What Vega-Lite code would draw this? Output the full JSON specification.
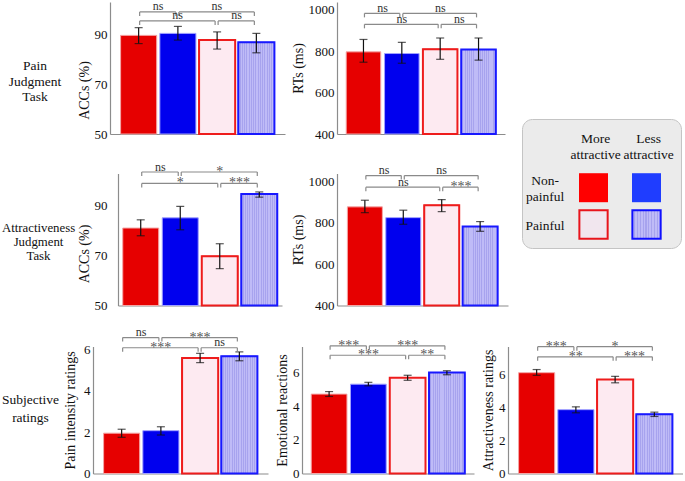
{
 "$schema": "https://vega.github.io/schema/vega-lite/v6.json",
 "padding": 0,
 "background": "white",
 "spacing": 12.5,
 "resolve": {"scale": {"fill": "independent", "stroke": "independent"}},
 "datasets": {
  "bars": [
   {"p":"acc1","c":"NM","m":89.6,"lo":86.3,"hi":92.7},
   {"p":"acc1","c":"NL","m":90.4,"lo":87.7,"hi":93.2},
   {"p":"acc1","c":"PM","m":87.7,"lo":84.1,"hi":91.0},
   {"p":"acc1","c":"PL","m":86.8,"lo":82.6,"hi":90.4},
   {"p":"rt1","c":"NM","m":797,"lo":747,"hi":857},
   {"p":"rt1","c":"NL","m":789,"lo":742,"hi":843},
   {"p":"rt1","c":"PM","m":810,"lo":761,"hi":864},
   {"p":"rt1","c":"PL","m":808,"lo":757,"hi":864},
   {"p":"acc2","c":"NM","m":81.1,"lo":78.0,"hi":84.4},
   {"p":"acc2","c":"NL","m":85.2,"lo":80.4,"hi":89.8},
   {"p":"acc2","c":"PM","m":69.8,"lo":64.8,"hi":74.8},
   {"p":"acc2","c":"PL","m":94.8,"lo":93.5,"hi":95.6},
   {"p":"rt2","c":"NM","m":876,"lo":848,"hi":908},
   {"p":"rt2","c":"NL","m":824,"lo":792,"hi":860},
   {"p":"rt2","c":"PM","m":884,"lo":853,"hi":911},
   {"p":"rt2","c":"PL","m":781,"lo":758,"hi":805},
   {"p":"pain","c":"NM","m":1.95,"lo":1.75,"hi":2.14},
   {"p":"pain","c":"NL","m":2.07,"lo":1.86,"hi":2.26},
   {"p":"pain","c":"PM","m":5.59,"lo":5.36,"hi":5.81},
   {"p":"pain","c":"PL","m":5.67,"lo":5.45,"hi":5.88},
   {"p":"emo","c":"NM","m":4.72,"lo":4.58,"hi":4.87},
   {"p":"emo","c":"NL","m":5.31,"lo":5.21,"hi":5.42},
   {"p":"emo","c":"PM","m":5.69,"lo":5.54,"hi":5.84},
   {"p":"emo","c":"PL","m":6.0,"lo":5.87,"hi":6.11},
   {"p":"att","c":"NM","m":6.08,"lo":5.92,"hi":6.27},
   {"p":"att","c":"NL","m":3.85,"lo":3.66,"hi":4.02},
   {"p":"att","c":"PM","m":5.67,"lo":5.47,"hi":5.86},
   {"p":"att","c":"PL","m":3.57,"lo":3.44,"hi":3.7}
  ],
  "br": [
   {"p":"acc1","c":"NM","c2":"NL","lev":99,"lab":"ns"},
   {"p":"acc1","c":"NL","c2":"PL","lev":99,"lab":"ns"},
   {"p":"acc1","c":"NM","c2":"PM","lev":95.4,"lab":"ns"},
   {"p":"acc1","c":"PM","c2":"PL","lev":95.4,"lab":"ns"},
   {"p":"rt1","c":"NM","c2":"NL","lev":983,"lab":"ns"},
   {"p":"rt1","c":"NL","c2":"PL","lev":983,"lab":"ns"},
   {"p":"rt1","c":"NM","c2":"PM","lev":930,"lab":"ns"},
   {"p":"rt1","c":"PM","c2":"PL","lev":930,"lab":"ns"},
   {"p":"acc2","c":"NM","c2":"NL","lev":103.6,"lab":"ns"},
   {"p":"acc2","c":"NL","c2":"PL","lev":103.6,"lab":"*"},
   {"p":"acc2","c":"NM","c2":"PM","lev":99,"lab":"*"},
   {"p":"acc2","c":"PM","c2":"PL","lev":99,"lab":"***"},
   {"p":"rt2","c":"NM","c2":"NL","lev":1027,"lab":"ns"},
   {"p":"rt2","c":"NL","c2":"PL","lev":1027,"lab":"ns"},
   {"p":"rt2","c":"NM","c2":"PM","lev":971,"lab":"ns"},
   {"p":"rt2","c":"PM","c2":"PL","lev":971,"lab":"***"},
   {"p":"pain","c":"NM","c2":"NL","lev":6.57,"lab":"ns"},
   {"p":"pain","c":"NL","c2":"PL","lev":6.57,"lab":"***"},
   {"p":"pain","c":"NM","c2":"PM","lev":6.08,"lab":"***"},
   {"p":"pain","c":"PM","c2":"PL","lev":6.08,"lab":"ns"},
   {"p":"emo","c":"NM","c2":"NL","lev":7.59,"lab":"***"},
   {"p":"emo","c":"NL","c2":"PL","lev":7.59,"lab":"***"},
   {"p":"emo","c":"NM","c2":"PM","lev":7.03,"lab":"***"},
   {"p":"emo","c":"PM","c2":"PL","lev":7.03,"lab":"**"},
   {"p":"att","c":"NM","c2":"NL","lev":7.65,"lab":"***"},
   {"p":"att","c":"NL","c2":"PL","lev":7.65,"lab":"*"},
   {"p":"att","c":"NM","c2":"PM","lev":7.04,"lab":"**"},
   {"p":"att","c":"PM","c2":"PL","lev":7.04,"lab":"***"}
  ]
 },
 "config": {
  "view": {"stroke": null},
  "font": "Liberation Serif",
  "text": {"font": "Liberation Serif"},
  "axis": {"labelFont":"Liberation Serif","titleFont":"Liberation Serif","labelFontSize":13,"titleFontSize":14,"titleFontWeight":"normal","labelColor":"#111","titleColor":"#111","domainColor":"#8c8c8c","domainWidth":1.2,"ticks":false,"grid":false,"labelPadding":3,"titlePadding":3},
  "rect": {"color":{"gradient":"linear","x1":0,"y1":0,"x2":1,"y2":0,"stops":[
    {"offset":0,"color":"#bfbbf7"},{"offset":0.0375,"color":"#bfbbf7"},{"offset":0.0375,"color":"#a7a3ee"},{"offset":0.0625,"color":"#a7a3ee"},
    {"offset":0.0625,"color":"#bfbbf7"},{"offset":0.1,"color":"#bfbbf7"},{"offset":0.1,"color":"#a7a3ee"},{"offset":0.125,"color":"#a7a3ee"},
    {"offset":0.125,"color":"#bfbbf7"},{"offset":0.1625,"color":"#bfbbf7"},{"offset":0.1625,"color":"#a7a3ee"},{"offset":0.1875,"color":"#a7a3ee"},
    {"offset":0.1875,"color":"#bfbbf7"},{"offset":0.225,"color":"#bfbbf7"},{"offset":0.225,"color":"#a7a3ee"},{"offset":0.25,"color":"#a7a3ee"},
    {"offset":0.25,"color":"#bfbbf7"},{"offset":0.2875,"color":"#bfbbf7"},{"offset":0.2875,"color":"#a7a3ee"},{"offset":0.3125,"color":"#a7a3ee"},
    {"offset":0.3125,"color":"#bfbbf7"},{"offset":0.35,"color":"#bfbbf7"},{"offset":0.35,"color":"#a7a3ee"},{"offset":0.375,"color":"#a7a3ee"},
    {"offset":0.375,"color":"#bfbbf7"},{"offset":0.4125,"color":"#bfbbf7"},{"offset":0.4125,"color":"#a7a3ee"},{"offset":0.4375,"color":"#a7a3ee"},
    {"offset":0.4375,"color":"#bfbbf7"},{"offset":0.475,"color":"#bfbbf7"},{"offset":0.475,"color":"#a7a3ee"},{"offset":0.5,"color":"#a7a3ee"},
    {"offset":0.5,"color":"#bfbbf7"},{"offset":0.5375,"color":"#bfbbf7"},{"offset":0.5375,"color":"#a7a3ee"},{"offset":0.5625,"color":"#a7a3ee"},
    {"offset":0.5625,"color":"#bfbbf7"},{"offset":0.6,"color":"#bfbbf7"},{"offset":0.6,"color":"#a7a3ee"},{"offset":0.625,"color":"#a7a3ee"},
    {"offset":0.625,"color":"#bfbbf7"},{"offset":0.6625,"color":"#bfbbf7"},{"offset":0.6625,"color":"#a7a3ee"},{"offset":0.6875,"color":"#a7a3ee"},
    {"offset":0.6875,"color":"#bfbbf7"},{"offset":0.725,"color":"#bfbbf7"},{"offset":0.725,"color":"#a7a3ee"},{"offset":0.75,"color":"#a7a3ee"},
    {"offset":0.75,"color":"#bfbbf7"},{"offset":0.7875,"color":"#bfbbf7"},{"offset":0.7875,"color":"#a7a3ee"},{"offset":0.8125,"color":"#a7a3ee"},
    {"offset":0.8125,"color":"#bfbbf7"},{"offset":0.85,"color":"#bfbbf7"},{"offset":0.85,"color":"#a7a3ee"},{"offset":0.875,"color":"#a7a3ee"},
    {"offset":0.875,"color":"#bfbbf7"},{"offset":0.9125,"color":"#bfbbf7"},{"offset":0.9125,"color":"#a7a3ee"},{"offset":0.9375,"color":"#a7a3ee"},
    {"offset":0.9375,"color":"#bfbbf7"},{"offset":0.975,"color":"#bfbbf7"},{"offset":0.975,"color":"#a7a3ee"},{"offset":1,"color":"#a7a3ee"}
   ]}}
 },
 "vconcat": [
  {
   "spacing": 13,
   "resolve": {"scale": {"fill": "independent", "stroke": "independent"}},
   "hconcat": [
    {
     "spacing": 19.5,
     "vconcat": [
      {
       "bounds": "flush", "spacing": 52,
       "hconcat": [
        {"width":58,"height":132,"data":{"values":[{"t":"Pain\nJudgment\nTask"}]},"mark":{"type":"text","font":"Liberation Serif","lineBreak":"\n","fontSize":13.5,"lineHeight":15.5,"dx":6,"dy":-2,"color":"#111"},"encoding":{"text":{"field":"t","type":"nominal"}}},
        {
         "width":175,"height":132,
         "encoding":{"x":{"field":"c","type":"nominal","scale":{"domain":["NM","NL","PM","PL"],"paddingInner":0.08,"paddingOuter":0.27},"axis":{"labels":false,"title":null}}},
         "layer":[
          {"data":{"name":"bars"},"transform":[{"filter":"datum.p==='acc1'"}],
           "layer":[
            {"mark":{"type":"bar","strokeWidth":1},"encoding":{"y":{"field":"m","type":"quantitative","scale":{"domain":[50,103],"nice":false,"zero":false},"axis":{"title":"ACCs (%)","values":[50,70,90],"titleY":88}},"y2":{"datum":50},
              "fill":{"field":"c","type":"nominal","scale":{"domain":["NM","NL","PM","PL"],"range":["#e60000","#0000ee","#fdeaf1","#bcb8f6"]},"legend":null},
              "stroke":{"field":"c","type":"nominal","scale":{"domain":["NM","NL","PM","PL"],"range":["#f4a6a6","#a0a0ff","#ee1c1c","#1818ff"]},"legend":null}}},
            {"transform":[{"filter":"datum.c==='PM'"}],"mark":{"type":"bar","fill":"#fdeaf1","stroke":"#ee1c1c","strokeWidth":2},"encoding":{"y":{"field":"m","type":"quantitative"},"y2":{"datum":50}}},
            {"transform":[{"filter":"datum.c==='PL'"}],"mark":{"type":"rect","stroke":"#1818ff","strokeWidth":2},"encoding":{"y":{"field":"m","type":"quantitative"},"y2":{"datum":50}}},
            {"mark":{"type":"rule","color":"#111","strokeWidth":1.2},"encoding":{"y":{"field":"lo","type":"quantitative"},"y2":{"field":"hi"}}},
            {"mark":{"type":"tick","color":"#111","size":8,"thickness":1.2},"encoding":{"y":{"field":"lo","type":"quantitative"}}},
            {"mark":{"type":"tick","color":"#111","size":8,"thickness":1.2},"encoding":{"y":{"field":"hi","type":"quantitative"}}}
           ]},
          {"data":{"name":"br"},"transform":[{"filter":"datum.p==='acc1'"}],
           "layer":[
            {"mark":{"type":"rule","color":"#8a8a8a","strokeWidth":1.2,"xOffset":1,"x2Offset":-2},"encoding":{"x2":{"field":"c2"},"y":{"field":"lev","type":"quantitative"}}},
            {"mark":{"type":"point","shape":"M0,0V1","size":64,"filled":false,"stroke":"#8a8a8a","strokeWidth":1.2,"opacity":1,"xOffset":1},"encoding":{"y":{"field":"lev","type":"quantitative"}}},
            {"mark":{"type":"point","shape":"M0,0V1","size":64,"filled":false,"stroke":"#8a8a8a","strokeWidth":1.2,"opacity":1,"xOffset":-2},"encoding":{"x":{"field":"c2","type":"nominal"},"y":{"field":"lev","type":"quantitative"}}},
            {"transform":[{"filter":"datum.lab==='ns' && ((datum.c==='NM'&&datum.c2==='NL')||(datum.c==='PM'&&datum.c2==='PL'))"}],"mark":{"type":"text","font":"Liberation Serif","baseline":"middle","dy":-5.5,"xOffset":19.5,"fontSize":12,"color":"#333"},"encoding":{"y":{"field":"lev","type":"quantitative"},"text":{"field":"lab"}}},
            {"transform":[{"filter":"datum.lab==='ns' && !((datum.c==='NM'&&datum.c2==='NL')||(datum.c==='PM'&&datum.c2==='PL'))"}],"mark":{"type":"text","font":"Liberation Serif","baseline":"middle","dy":-5.5,"xOffset":39,"fontSize":12,"color":"#333"},"encoding":{"y":{"field":"lev","type":"quantitative"},"text":{"field":"lab"}}},
            {"transform":[{"filter":"datum.lab!=='ns' && ((datum.c==='NM'&&datum.c2==='NL')||(datum.c==='PM'&&datum.c2==='PL'))"}],"mark":{"type":"text","font":"Liberation Serif","baseline":"middle","dy":0,"xOffset":19.5,"fontSize":14,"color":"#555"},"encoding":{"y":{"field":"lev","type":"quantitative"},"text":{"field":"lab"}}},
            {"transform":[{"filter":"datum.lab!=='ns' && !((datum.c==='NM'&&datum.c2==='NL')||(datum.c==='PM'&&datum.c2==='PL'))"}],"mark":{"type":"text","font":"Liberation Serif","baseline":"middle","dy":0,"xOffset":39,"fontSize":14,"color":"#555"},"encoding":{"y":{"field":"lev","type":"quantitative"},"text":{"field":"lab"}}}
           ]}
         ]
        },
        {
         "width":168,"height":132,
         "encoding":{"x":{"field":"c","type":"nominal","scale":{"domain":["NM","NL","PM","PL"],"paddingInner":0.1,"paddingOuter":0.24},"axis":{"labels":false,"title":null}}},
         "layer":[
          {"data":{"name":"bars"},"transform":[{"filter":"datum.p==='rt1'"}],
           "layer":[
            {"mark":{"type":"bar","strokeWidth":1},"encoding":{"y":{"field":"m","type":"quantitative","scale":{"domain":[400,1038],"nice":false,"zero":false},"axis":{"title":"RTs (ms)","values":[400,600,800,1000],"format":"d"}},"y2":{"datum":400},
              "fill":{"field":"c","type":"nominal","scale":{"domain":["NM","NL","PM","PL"],"range":["#e60000","#0000ee","#fdeaf1","#bcb8f6"]},"legend":null},
              "stroke":{"field":"c","type":"nominal","scale":{"domain":["NM","NL","PM","PL"],"range":["#f4a6a6","#a0a0ff","#ee1c1c","#1818ff"]},"legend":null}}},
            {"transform":[{"filter":"datum.c==='PM'"}],"mark":{"type":"bar","fill":"#fdeaf1","stroke":"#ee1c1c","strokeWidth":2},"encoding":{"y":{"field":"m","type":"quantitative"},"y2":{"datum":400}}},
            {"transform":[{"filter":"datum.c==='PL'"}],"mark":{"type":"rect","stroke":"#1818ff","strokeWidth":2},"encoding":{"y":{"field":"m","type":"quantitative"},"y2":{"datum":400}}},
            {"mark":{"type":"rule","color":"#111","strokeWidth":1.2},"encoding":{"y":{"field":"lo","type":"quantitative"},"y2":{"field":"hi"}}},
            {"mark":{"type":"tick","color":"#111","size":8,"thickness":1.2},"encoding":{"y":{"field":"lo","type":"quantitative"}}},
            {"mark":{"type":"tick","color":"#111","size":8,"thickness":1.2},"encoding":{"y":{"field":"hi","type":"quantitative"}}}
           ]},
          {"data":{"name":"br"},"transform":[{"filter":"datum.p==='rt1'"}],
           "layer":[
            {"mark":{"type":"rule","color":"#8a8a8a","strokeWidth":1.2,"xOffset":1,"x2Offset":-2},"encoding":{"x2":{"field":"c2"},"y":{"field":"lev","type":"quantitative"}}},
            {"mark":{"type":"point","shape":"M0,0V1","size":64,"filled":false,"stroke":"#8a8a8a","strokeWidth":1.2,"opacity":1,"xOffset":1},"encoding":{"y":{"field":"lev","type":"quantitative"}}},
            {"mark":{"type":"point","shape":"M0,0V1","size":64,"filled":false,"stroke":"#8a8a8a","strokeWidth":1.2,"opacity":1,"xOffset":-2},"encoding":{"x":{"field":"c2","type":"nominal"},"y":{"field":"lev","type":"quantitative"}}},
            {"transform":[{"filter":"datum.lab==='ns' && ((datum.c==='NM'&&datum.c2==='NL')||(datum.c==='PM'&&datum.c2==='PL'))"}],"mark":{"type":"text","font":"Liberation Serif","baseline":"middle","dy":-5.5,"xOffset":19.2,"fontSize":12,"color":"#333"},"encoding":{"y":{"field":"lev","type":"quantitative"},"text":{"field":"lab"}}},
            {"transform":[{"filter":"datum.lab==='ns' && !((datum.c==='NM'&&datum.c2==='NL')||(datum.c==='PM'&&datum.c2==='PL'))"}],"mark":{"type":"text","font":"Liberation Serif","baseline":"middle","dy":-5.5,"xOffset":38.4,"fontSize":12,"color":"#333"},"encoding":{"y":{"field":"lev","type":"quantitative"},"text":{"field":"lab"}}},
            {"transform":[{"filter":"datum.lab!=='ns' && ((datum.c==='NM'&&datum.c2==='NL')||(datum.c==='PM'&&datum.c2==='PL'))"}],"mark":{"type":"text","font":"Liberation Serif","baseline":"middle","dy":0,"xOffset":19.2,"fontSize":14,"color":"#555"},"encoding":{"y":{"field":"lev","type":"quantitative"},"text":{"field":"lab"}}},
            {"transform":[{"filter":"datum.lab!=='ns' && !((datum.c==='NM'&&datum.c2==='NL')||(datum.c==='PM'&&datum.c2==='PL'))"}],"mark":{"type":"text","font":"Liberation Serif","baseline":"middle","dy":0,"xOffset":38.4,"fontSize":14,"color":"#555"},"encoding":{"y":{"field":"lev","type":"quantitative"},"text":{"field":"lab"}}}
           ]}
         ]
        }
       ]
      },
      {
       "bounds": "flush", "spacing": 55,
       "hconcat": [
        {"width":63,"height":132,"data":{"values":[{"t":"Attractiveness\nJudgment\nTask"}]},"mark":{"type":"text","font":"Liberation Serif","lineBreak":"\n","fontSize":12.8,"lineHeight":14,"dx":7,"dy":-12,"color":"#111"},"encoding":{"text":{"field":"t","type":"nominal"}}},
        {
         "width":164,"height":132,
         "encoding":{"x":{"field":"c","type":"nominal","scale":{"domain":["NM","NL","PM","PL"],"paddingInner":0.09,"paddingOuter":0.12},"axis":{"labels":false,"title":null}}},
         "layer":[
          {"data":{"name":"bars"},"transform":[{"filter":"datum.p==='acc2'"}],
           "layer":[
            {"mark":{"type":"bar","strokeWidth":1},"encoding":{"y":{"field":"m","type":"quantitative","scale":{"domain":[50,103],"nice":false,"zero":false},"axis":{"title":"ACCs (%)","values":[50,70,90],"labelPadding":11,"titleY":80}},"y2":{"datum":50},
              "fill":{"field":"c","type":"nominal","scale":{"domain":["NM","NL","PM","PL"],"range":["#e60000","#0000ee","#fdeaf1","#bcb8f6"]},"legend":null},
              "stroke":{"field":"c","type":"nominal","scale":{"domain":["NM","NL","PM","PL"],"range":["#f4a6a6","#a0a0ff","#ee1c1c","#1818ff"]},"legend":null}}},
            {"transform":[{"filter":"datum.c==='PM'"}],"mark":{"type":"bar","fill":"#fdeaf1","stroke":"#ee1c1c","strokeWidth":2},"encoding":{"y":{"field":"m","type":"quantitative"},"y2":{"datum":50}}},
            {"transform":[{"filter":"datum.c==='PL'"}],"mark":{"type":"rect","stroke":"#1818ff","strokeWidth":2},"encoding":{"y":{"field":"m","type":"quantitative"},"y2":{"datum":50}}},
            {"mark":{"type":"rule","color":"#111","strokeWidth":1.2},"encoding":{"y":{"field":"lo","type":"quantitative"},"y2":{"field":"hi"}}},
            {"mark":{"type":"tick","color":"#111","size":8,"thickness":1.2},"encoding":{"y":{"field":"lo","type":"quantitative"}}},
            {"mark":{"type":"tick","color":"#111","size":8,"thickness":1.2},"encoding":{"y":{"field":"hi","type":"quantitative"}}}
           ]},
          {"data":{"name":"br"},"transform":[{"filter":"datum.p==='acc2'"}],
           "layer":[
            {"mark":{"type":"rule","color":"#8a8a8a","strokeWidth":1.2,"xOffset":1,"x2Offset":-2},"encoding":{"x2":{"field":"c2"},"y":{"field":"lev","type":"quantitative"}}},
            {"mark":{"type":"point","shape":"M0,0V1","size":64,"filled":false,"stroke":"#8a8a8a","strokeWidth":1.2,"opacity":1,"xOffset":1},"encoding":{"y":{"field":"lev","type":"quantitative"}}},
            {"mark":{"type":"point","shape":"M0,0V1","size":64,"filled":false,"stroke":"#8a8a8a","strokeWidth":1.2,"opacity":1,"xOffset":-2},"encoding":{"x":{"field":"c2","type":"nominal"},"y":{"field":"lev","type":"quantitative"}}},
            {"transform":[{"filter":"datum.lab==='ns' && ((datum.c==='NM'&&datum.c2==='NL')||(datum.c==='PM'&&datum.c2==='PL'))"}],"mark":{"type":"text","font":"Liberation Serif","baseline":"middle","dy":-5.5,"xOffset":19.7,"fontSize":12,"color":"#333"},"encoding":{"y":{"field":"lev","type":"quantitative"},"text":{"field":"lab"}}},
            {"transform":[{"filter":"datum.lab==='ns' && !((datum.c==='NM'&&datum.c2==='NL')||(datum.c==='PM'&&datum.c2==='PL'))"}],"mark":{"type":"text","font":"Liberation Serif","baseline":"middle","dy":-5.5,"xOffset":39.5,"fontSize":12,"color":"#333"},"encoding":{"y":{"field":"lev","type":"quantitative"},"text":{"field":"lab"}}},
            {"transform":[{"filter":"datum.lab!=='ns' && ((datum.c==='NM'&&datum.c2==='NL')||(datum.c==='PM'&&datum.c2==='PL'))"}],"mark":{"type":"text","font":"Liberation Serif","baseline":"middle","dy":0,"xOffset":19.7,"fontSize":14,"color":"#555"},"encoding":{"y":{"field":"lev","type":"quantitative"},"text":{"field":"lab"}}},
            {"transform":[{"filter":"datum.lab!=='ns' && !((datum.c==='NM'&&datum.c2==='NL')||(datum.c==='PM'&&datum.c2==='PL'))"}],"mark":{"type":"text","font":"Liberation Serif","baseline":"middle","dy":0,"xOffset":39.5,"fontSize":14,"color":"#555"},"encoding":{"y":{"field":"lev","type":"quantitative"},"text":{"field":"lab"}}}
           ]}
         ]
        },
        {
         "width":171,"height":132,
         "encoding":{"x":{"field":"c","type":"nominal","scale":{"domain":["NM","NL","PM","PL"],"paddingInner":0.09,"paddingOuter":0.27},"axis":{"labels":false,"title":null}}},
         "layer":[
          {"data":{"name":"bars"},"transform":[{"filter":"datum.p==='rt2'"}],
           "layer":[
            {"mark":{"type":"bar","strokeWidth":1},"encoding":{"y":{"field":"m","type":"quantitative","scale":{"domain":[400,1037],"nice":false,"zero":false},"axis":{"title":"RTs (ms)","values":[400,600,800,1000],"format":"d"}},"y2":{"datum":400},
              "fill":{"field":"c","type":"nominal","scale":{"domain":["NM","NL","PM","PL"],"range":["#e60000","#0000ee","#fdeaf1","#bcb8f6"]},"legend":null},
              "stroke":{"field":"c","type":"nominal","scale":{"domain":["NM","NL","PM","PL"],"range":["#f4a6a6","#a0a0ff","#ee1c1c","#1818ff"]},"legend":null}}},
            {"transform":[{"filter":"datum.c==='PM'"}],"mark":{"type":"bar","fill":"#fdeaf1","stroke":"#ee1c1c","strokeWidth":2},"encoding":{"y":{"field":"m","type":"quantitative"},"y2":{"datum":400}}},
            {"transform":[{"filter":"datum.c==='PL'"}],"mark":{"type":"rect","stroke":"#1818ff","strokeWidth":2},"encoding":{"y":{"field":"m","type":"quantitative"},"y2":{"datum":400}}},
            {"mark":{"type":"rule","color":"#111","strokeWidth":1.2},"encoding":{"y":{"field":"lo","type":"quantitative"},"y2":{"field":"hi"}}},
            {"mark":{"type":"tick","color":"#111","size":8,"thickness":1.2},"encoding":{"y":{"field":"lo","type":"quantitative"}}},
            {"mark":{"type":"tick","color":"#111","size":8,"thickness":1.2},"encoding":{"y":{"field":"hi","type":"quantitative"}}}
           ]},
          {"data":{"name":"br"},"transform":[{"filter":"datum.p==='rt2'"}],
           "layer":[
            {"mark":{"type":"rule","color":"#8a8a8a","strokeWidth":1.2,"xOffset":1,"x2Offset":-2},"encoding":{"x2":{"field":"c2"},"y":{"field":"lev","type":"quantitative"}}},
            {"mark":{"type":"point","shape":"M0,0V1","size":64,"filled":false,"stroke":"#8a8a8a","strokeWidth":1.2,"opacity":1,"xOffset":1},"encoding":{"y":{"field":"lev","type":"quantitative"}}},
            {"mark":{"type":"point","shape":"M0,0V1","size":64,"filled":false,"stroke":"#8a8a8a","strokeWidth":1.2,"opacity":1,"xOffset":-2},"encoding":{"x":{"field":"c2","type":"nominal"},"y":{"field":"lev","type":"quantitative"}}},
            {"transform":[{"filter":"datum.lab==='ns' && ((datum.c==='NM'&&datum.c2==='NL')||(datum.c==='PM'&&datum.c2==='PL'))"}],"mark":{"type":"text","font":"Liberation Serif","baseline":"middle","dy":-5.5,"xOffset":19.2,"fontSize":12,"color":"#333"},"encoding":{"y":{"field":"lev","type":"quantitative"},"text":{"field":"lab"}}},
            {"transform":[{"filter":"datum.lab==='ns' && !((datum.c==='NM'&&datum.c2==='NL')||(datum.c==='PM'&&datum.c2==='PL'))"}],"mark":{"type":"text","font":"Liberation Serif","baseline":"middle","dy":-5.5,"xOffset":38.4,"fontSize":12,"color":"#333"},"encoding":{"y":{"field":"lev","type":"quantitative"},"text":{"field":"lab"}}},
            {"transform":[{"filter":"datum.lab!=='ns' && ((datum.c==='NM'&&datum.c2==='NL')||(datum.c==='PM'&&datum.c2==='PL'))"}],"mark":{"type":"text","font":"Liberation Serif","baseline":"middle","dy":0,"xOffset":19.2,"fontSize":14,"color":"#555"},"encoding":{"y":{"field":"lev","type":"quantitative"},"text":{"field":"lab"}}},
            {"transform":[{"filter":"datum.lab!=='ns' && !((datum.c==='NM'&&datum.c2==='NL')||(datum.c==='PM'&&datum.c2==='PL'))"}],"mark":{"type":"text","font":"Liberation Serif","baseline":"middle","dy":0,"xOffset":38.4,"fontSize":14,"color":"#555"},"encoding":{"y":{"field":"lev","type":"quantitative"},"text":{"field":"lab"}}}
           ]}
         ]
        }
       ]
      }
     ]
    },
    {
     "spacing": 17,
     "vconcat": [
      {"width":159,"height":99,"data":{"values":[{}]},"mark":{"type":"text"},"encoding":{}},
      {
       "width":159,"height":129,
       "view":{"fill":"#ebebeb","stroke":"#c4c4c4","strokeWidth":1,"cornerRadius":10},
       "layer":[
        {"data":{"values":[{"col":"More attractive","t":"More\nattractive"},{"col":"Less attractive","t":"Less\nattractive"}]},
         "mark":{"type":"text","font":"Liberation Serif","lineBreak":"\n","fontSize":13.5,"lineHeight":16,"color":"#111","dy":-12.2,"dx":-1},
         "encoding":{"x":{"field":"col","type":"nominal","scale":{"type":"point","domain":["lab","More attractive","Less attractive"],"padding":0.5,"align":0.406},"axis":null},
                     "y":{"datum":"head","type":"nominal","scale":{"type":"point","domain":["head","Non-painful","Painful"],"padding":0.753,"align":0.576},"axis":null},
                     "text":{"field":"t"}}},
        {"data":{"values":[{"row":"Non-painful","t":"Non-\npainful"},{"row":"Painful","t":"Painful"}]},
         "layer":[
          {"transform":[{"filter":"datum.row==='Non-painful'"}],"mark":{"type":"text","font":"Liberation Serif","lineBreak":"\n","fontSize":13.5,"lineHeight":16,"color":"#111","dy":-6.4,"dx":1.5},
           "encoding":{"x":{"datum":"lab","type":"nominal"},"y":{"field":"row","type":"nominal"},"text":{"field":"t"}}},
          {"transform":[{"filter":"datum.row==='Painful'"}],"mark":{"type":"text","font":"Liberation Serif","fontSize":13.5,"color":"#111","dy":1.5,"dx":1.5},
           "encoding":{"x":{"datum":"lab","type":"nominal"},"y":{"field":"row","type":"nominal"},"text":{"field":"t"}}}
         ]},
        {"data":{"values":[{"row":"Non-painful","col":"More attractive","k":"nm"},{"row":"Non-painful","col":"Less attractive","k":"nl"},{"row":"Painful","col":"More attractive","k":"pm"},{"row":"Painful","col":"Less attractive","k":"pl"}]},
         "layer":[
          {"transform":[{"filter":"datum.row==='Non-painful'"}],"mark":{"type":"point","shape":"square","size":841,"filled":true,"opacity":1,"xOffset":-3},
           "encoding":{"x":{"field":"col","type":"nominal"},"y":{"field":"row","type":"nominal"},"fill":{"field":"k","type":"nominal","scale":{"domain":["nm","nl"],"range":["#ff0000","#1f3dff"]},"legend":null}}},
          {"transform":[{"filter":"datum.k==='pm'"}],"mark":{"type":"point","shape":"square","size":800,"filled":true,"opacity":1,"xOffset":-3,"fill":"#f1e6ee","stroke":"#e8141c","strokeWidth":2},
           "encoding":{"x":{"field":"col","type":"nominal"},"y":{"field":"row","type":"nominal"}}},
          {"transform":[{"filter":"datum.k==='pl'"}],"mark":{"type":"point","shape":"square","size":800,"filled":true,"opacity":1,"xOffset":-3,"stroke":"#1010ff","strokeWidth":2,
            "fill":{"gradient":"linear","x1":0,"y1":0,"x2":1,"y2":0,"stops":[
             {"offset":0,"color":"#bfbbf7"},{"offset":0.06,"color":"#bfbbf7"},{"offset":0.06,"color":"#a7a3ee"},{"offset":0.1,"color":"#a7a3ee"},
             {"offset":0.1,"color":"#bfbbf7"},{"offset":0.16,"color":"#bfbbf7"},{"offset":0.16,"color":"#a7a3ee"},{"offset":0.2,"color":"#a7a3ee"},
             {"offset":0.2,"color":"#bfbbf7"},{"offset":0.26,"color":"#bfbbf7"},{"offset":0.26,"color":"#a7a3ee"},{"offset":0.3,"color":"#a7a3ee"},
             {"offset":0.3,"color":"#bfbbf7"},{"offset":0.36,"color":"#bfbbf7"},{"offset":0.36,"color":"#a7a3ee"},{"offset":0.4,"color":"#a7a3ee"},
             {"offset":0.4,"color":"#bfbbf7"},{"offset":0.46,"color":"#bfbbf7"},{"offset":0.46,"color":"#a7a3ee"},{"offset":0.5,"color":"#a7a3ee"},
             {"offset":0.5,"color":"#bfbbf7"},{"offset":0.56,"color":"#bfbbf7"},{"offset":0.56,"color":"#a7a3ee"},{"offset":0.6,"color":"#a7a3ee"},
             {"offset":0.6,"color":"#bfbbf7"},{"offset":0.66,"color":"#bfbbf7"},{"offset":0.66,"color":"#a7a3ee"},{"offset":0.7,"color":"#a7a3ee"},
             {"offset":0.7,"color":"#bfbbf7"},{"offset":0.76,"color":"#bfbbf7"},{"offset":0.76,"color":"#a7a3ee"},{"offset":0.8,"color":"#a7a3ee"},
             {"offset":0.8,"color":"#bfbbf7"},{"offset":0.86,"color":"#bfbbf7"},{"offset":0.86,"color":"#a7a3ee"},{"offset":0.9,"color":"#a7a3ee"},
             {"offset":0.9,"color":"#bfbbf7"},{"offset":0.96,"color":"#bfbbf7"},{"offset":0.96,"color":"#a7a3ee"},{"offset":1,"color":"#a7a3ee"}
            ]}},
           "encoding":{"x":{"field":"col","type":"nominal"},"y":{"field":"row","type":"nominal"}}}
         ]}
       ]
      }
     ]
    }
   ]
  },
  {
   "bounds": "flush", "spacing": 34,
   "hconcat": [
    {"width":59,"height":127,"data":{"values":[{"t":"Subjective\nratings"}]},"mark":{"type":"text","font":"Liberation Serif","lineBreak":"\n","fontSize":13.5,"lineHeight":18,"dx":1,"dy":-10.5,"color":"#111"},"encoding":{"text":{"field":"t","type":"nominal"}}},
    {
     "width":175,"height":127,
     "encoding":{"x":{"field":"c","type":"nominal","scale":{"domain":["NM","NL","PM","PL"],"paddingInner":0.08,"paddingOuter":0.27},"axis":{"labels":false,"title":null}}},
     "layer":[
      {"data":{"name":"bars"},"transform":[{"filter":"datum.p==='pain'"}],
       "layer":[
        {"mark":{"type":"bar","strokeWidth":1},"encoding":{"y":{"field":"m","type":"quantitative","scale":{"domain":[0,6.14],"nice":false,"zero":false},"axis":{"title":"Pain intensity ratings","values":[0,2,4,6],"titlePadding":6}},"y2":{"datum":0},
          "fill":{"field":"c","type":"nominal","scale":{"domain":["NM","NL","PM","PL"],"range":["#e60000","#0000ee","#fdeaf1","#bcb8f6"]},"legend":null},
          "stroke":{"field":"c","type":"nominal","scale":{"domain":["NM","NL","PM","PL"],"range":["#f4a6a6","#a0a0ff","#ee1c1c","#1818ff"]},"legend":null}}},
        {"transform":[{"filter":"datum.c==='PM'"}],"mark":{"type":"bar","fill":"#fdeaf1","stroke":"#ee1c1c","strokeWidth":2},"encoding":{"y":{"field":"m","type":"quantitative"},"y2":{"datum":0}}},
        {"transform":[{"filter":"datum.c==='PL'"}],"mark":{"type":"rect","stroke":"#1818ff","strokeWidth":2},"encoding":{"y":{"field":"m","type":"quantitative"},"y2":{"datum":0}}},
        {"mark":{"type":"rule","color":"#111","strokeWidth":1.2},"encoding":{"y":{"field":"lo","type":"quantitative"},"y2":{"field":"hi"}}},
        {"mark":{"type":"tick","color":"#111","size":8,"thickness":1.2},"encoding":{"y":{"field":"lo","type":"quantitative"}}},
        {"mark":{"type":"tick","color":"#111","size":8,"thickness":1.2},"encoding":{"y":{"field":"hi","type":"quantitative"}}}
       ]},
      {"data":{"name":"br"},"transform":[{"filter":"datum.p==='pain'"}],
       "layer":[
        {"mark":{"type":"rule","color":"#8a8a8a","strokeWidth":1.2,"xOffset":1,"x2Offset":-2},"encoding":{"x2":{"field":"c2"},"y":{"field":"lev","type":"quantitative"}}},
        {"mark":{"type":"point","shape":"M0,0V1","size":64,"filled":false,"stroke":"#8a8a8a","strokeWidth":1.2,"opacity":1,"xOffset":1},"encoding":{"y":{"field":"lev","type":"quantitative"}}},
        {"mark":{"type":"point","shape":"M0,0V1","size":64,"filled":false,"stroke":"#8a8a8a","strokeWidth":1.2,"opacity":1,"xOffset":-2},"encoding":{"x":{"field":"c2","type":"nominal"},"y":{"field":"lev","type":"quantitative"}}},
        {"transform":[{"filter":"datum.lab==='ns' && ((datum.c==='NM'&&datum.c2==='NL')||(datum.c==='PM'&&datum.c2==='PL'))"}],"mark":{"type":"text","font":"Liberation Serif","baseline":"middle","dy":-5.5,"xOffset":19.5,"fontSize":12,"color":"#333"},"encoding":{"y":{"field":"lev","type":"quantitative"},"text":{"field":"lab"}}},
        {"transform":[{"filter":"datum.lab==='ns' && !((datum.c==='NM'&&datum.c2==='NL')||(datum.c==='PM'&&datum.c2==='PL'))"}],"mark":{"type":"text","font":"Liberation Serif","baseline":"middle","dy":-5.5,"xOffset":39,"fontSize":12,"color":"#333"},"encoding":{"y":{"field":"lev","type":"quantitative"},"text":{"field":"lab"}}},
        {"transform":[{"filter":"datum.lab!=='ns' && ((datum.c==='NM'&&datum.c2==='NL')||(datum.c==='PM'&&datum.c2==='PL'))"}],"mark":{"type":"text","font":"Liberation Serif","baseline":"middle","dy":0,"xOffset":19.5,"fontSize":14,"color":"#555"},"encoding":{"y":{"field":"lev","type":"quantitative"},"text":{"field":"lab"}}},
        {"transform":[{"filter":"datum.lab!=='ns' && !((datum.c==='NM'&&datum.c2==='NL')||(datum.c==='PM'&&datum.c2==='PL'))"}],"mark":{"type":"text","font":"Liberation Serif","baseline":"middle","dy":0,"xOffset":39,"fontSize":14,"color":"#555"},"encoding":{"y":{"field":"lev","type":"quantitative"},"text":{"field":"lab"}}}
       ]}
     ]
    },
    {
     "width":172,"height":127,
     "encoding":{"x":{"field":"c","type":"nominal","scale":{"domain":["NM","NL","PM","PL"],"paddingInner":0.09,"paddingOuter":0.235},"axis":{"labels":false,"title":null}}},
     "layer":[
      {"data":{"name":"bars"},"transform":[{"filter":"datum.p==='emo'"}],
       "layer":[
        {"mark":{"type":"bar","strokeWidth":1},"encoding":{"y":{"field":"m","type":"quantitative","scale":{"domain":[0,7.55],"nice":false,"zero":false},"axis":{"title":"Emotional reactions","values":[0,2,4,6]}},"y2":{"datum":0},
          "fill":{"field":"c","type":"nominal","scale":{"domain":["NM","NL","PM","PL"],"range":["#e60000","#0000ee","#fdeaf1","#bcb8f6"]},"legend":null},
          "stroke":{"field":"c","type":"nominal","scale":{"domain":["NM","NL","PM","PL"],"range":["#f4a6a6","#a0a0ff","#ee1c1c","#1818ff"]},"legend":null}}},
        {"transform":[{"filter":"datum.c==='PM'"}],"mark":{"type":"bar","fill":"#fdeaf1","stroke":"#ee1c1c","strokeWidth":2},"encoding":{"y":{"field":"m","type":"quantitative"},"y2":{"datum":0}}},
        {"transform":[{"filter":"datum.c==='PL'"}],"mark":{"type":"rect","stroke":"#1818ff","strokeWidth":2},"encoding":{"y":{"field":"m","type":"quantitative"},"y2":{"datum":0}}},
        {"mark":{"type":"rule","color":"#111","strokeWidth":1.2},"encoding":{"y":{"field":"lo","type":"quantitative"},"y2":{"field":"hi"}}},
        {"mark":{"type":"tick","color":"#111","size":8,"thickness":1.2},"encoding":{"y":{"field":"lo","type":"quantitative"}}},
        {"mark":{"type":"tick","color":"#111","size":8,"thickness":1.2},"encoding":{"y":{"field":"hi","type":"quantitative"}}}
       ]},
      {"data":{"name":"br"},"transform":[{"filter":"datum.p==='emo'"}],
       "layer":[
        {"mark":{"type":"rule","color":"#8a8a8a","strokeWidth":1.2,"xOffset":1,"x2Offset":-2},"encoding":{"x2":{"field":"c2"},"y":{"field":"lev","type":"quantitative"}}},
        {"mark":{"type":"point","shape":"M0,0V1","size":64,"filled":false,"stroke":"#8a8a8a","strokeWidth":1.2,"opacity":1,"xOffset":1},"encoding":{"y":{"field":"lev","type":"quantitative"}}},
        {"mark":{"type":"point","shape":"M0,0V1","size":64,"filled":false,"stroke":"#8a8a8a","strokeWidth":1.2,"opacity":1,"xOffset":-2},"encoding":{"x":{"field":"c2","type":"nominal"},"y":{"field":"lev","type":"quantitative"}}},
        {"transform":[{"filter":"datum.lab==='ns' && ((datum.c==='NM'&&datum.c2==='NL')||(datum.c==='PM'&&datum.c2==='PL'))"}],"mark":{"type":"text","font":"Liberation Serif","baseline":"middle","dy":-5.5,"xOffset":19.6,"fontSize":12,"color":"#333"},"encoding":{"y":{"field":"lev","type":"quantitative"},"text":{"field":"lab"}}},
        {"transform":[{"filter":"datum.lab==='ns' && !((datum.c==='NM'&&datum.c2==='NL')||(datum.c==='PM'&&datum.c2==='PL'))"}],"mark":{"type":"text","font":"Liberation Serif","baseline":"middle","dy":-5.5,"xOffset":39.3,"fontSize":12,"color":"#333"},"encoding":{"y":{"field":"lev","type":"quantitative"},"text":{"field":"lab"}}},
        {"transform":[{"filter":"datum.lab!=='ns' && ((datum.c==='NM'&&datum.c2==='NL')||(datum.c==='PM'&&datum.c2==='PL'))"}],"mark":{"type":"text","font":"Liberation Serif","baseline":"middle","dy":0,"xOffset":19.6,"fontSize":14,"color":"#555"},"encoding":{"y":{"field":"lev","type":"quantitative"},"text":{"field":"lab"}}},
        {"transform":[{"filter":"datum.lab!=='ns' && !((datum.c==='NM'&&datum.c2==='NL')||(datum.c==='PM'&&datum.c2==='PL'))"}],"mark":{"type":"text","font":"Liberation Serif","baseline":"middle","dy":0,"xOffset":39.3,"fontSize":14,"color":"#555"},"encoding":{"y":{"field":"lev","type":"quantitative"},"text":{"field":"lab"}}}
       ]}
     ]
    },
    {
     "width":175,"height":127,
     "encoding":{"x":{"field":"c","type":"nominal","scale":{"domain":["NM","NL","PM","PL"],"paddingInner":0.08,"paddingOuter":0.27},"axis":{"labels":false,"title":null}}},
     "layer":[
      {"data":{"name":"bars"},"transform":[{"filter":"datum.p==='att'"}],
       "layer":[
        {"mark":{"type":"bar","strokeWidth":1},"encoding":{"y":{"field":"m","type":"quantitative","scale":{"domain":[0,7.66],"nice":false,"zero":false},"axis":{"title":"Attractiveness ratings","values":[0,2,4,6]}},"y2":{"datum":0},
          "fill":{"field":"c","type":"nominal","scale":{"domain":["NM","NL","PM","PL"],"range":["#e60000","#0000ee","#fdeaf1","#bcb8f6"]},"legend":null},
          "stroke":{"field":"c","type":"nominal","scale":{"domain":["NM","NL","PM","PL"],"range":["#f4a6a6","#a0a0ff","#ee1c1c","#1818ff"]},"legend":null}}},
        {"transform":[{"filter":"datum.c==='PM'"}],"mark":{"type":"bar","fill":"#fdeaf1","stroke":"#ee1c1c","strokeWidth":2},"encoding":{"y":{"field":"m","type":"quantitative"},"y2":{"datum":0}}},
        {"transform":[{"filter":"datum.c==='PL'"}],"mark":{"type":"rect","stroke":"#1818ff","strokeWidth":2},"encoding":{"y":{"field":"m","type":"quantitative"},"y2":{"datum":0}}},
        {"mark":{"type":"rule","color":"#111","strokeWidth":1.2},"encoding":{"y":{"field":"lo","type":"quantitative"},"y2":{"field":"hi"}}},
        {"mark":{"type":"tick","color":"#111","size":8,"thickness":1.2},"encoding":{"y":{"field":"lo","type":"quantitative"}}},
        {"mark":{"type":"tick","color":"#111","size":8,"thickness":1.2},"encoding":{"y":{"field":"hi","type":"quantitative"}}}
       ]},
      {"data":{"name":"br"},"transform":[{"filter":"datum.p==='att'"}],
       "layer":[
        {"mark":{"type":"rule","color":"#8a8a8a","strokeWidth":1.2,"xOffset":1,"x2Offset":-2},"encoding":{"x2":{"field":"c2"},"y":{"field":"lev","type":"quantitative"}}},
        {"mark":{"type":"point","shape":"M0,0V1","size":64,"filled":false,"stroke":"#8a8a8a","strokeWidth":1.2,"opacity":1,"xOffset":1},"encoding":{"y":{"field":"lev","type":"quantitative"}}},
        {"mark":{"type":"point","shape":"M0,0V1","size":64,"filled":false,"stroke":"#8a8a8a","strokeWidth":1.2,"opacity":1,"xOffset":-2},"encoding":{"x":{"field":"c2","type":"nominal"},"y":{"field":"lev","type":"quantitative"}}},
        {"transform":[{"filter":"datum.lab==='ns' && ((datum.c==='NM'&&datum.c2==='NL')||(datum.c==='PM'&&datum.c2==='PL'))"}],"mark":{"type":"text","font":"Liberation Serif","baseline":"middle","dy":-5.5,"xOffset":19.5,"fontSize":12,"color":"#333"},"encoding":{"y":{"field":"lev","type":"quantitative"},"text":{"field":"lab"}}},
        {"transform":[{"filter":"datum.lab==='ns' && !((datum.c==='NM'&&datum.c2==='NL')||(datum.c==='PM'&&datum.c2==='PL'))"}],"mark":{"type":"text","font":"Liberation Serif","baseline":"middle","dy":-5.5,"xOffset":39,"fontSize":12,"color":"#333"},"encoding":{"y":{"field":"lev","type":"quantitative"},"text":{"field":"lab"}}},
        {"transform":[{"filter":"datum.lab!=='ns' && ((datum.c==='NM'&&datum.c2==='NL')||(datum.c==='PM'&&datum.c2==='PL'))"}],"mark":{"type":"text","font":"Liberation Serif","baseline":"middle","dy":0,"xOffset":19.5,"fontSize":14,"color":"#555"},"encoding":{"y":{"field":"lev","type":"quantitative"},"text":{"field":"lab"}}},
        {"transform":[{"filter":"datum.lab!=='ns' && !((datum.c==='NM'&&datum.c2==='NL')||(datum.c==='PM'&&datum.c2==='PL'))"}],"mark":{"type":"text","font":"Liberation Serif","baseline":"middle","dy":0,"xOffset":39,"fontSize":14,"color":"#555"},"encoding":{"y":{"field":"lev","type":"quantitative"},"text":{"field":"lab"}}}
       ]}
     ]
    }
   ]
  }
 ]
}
